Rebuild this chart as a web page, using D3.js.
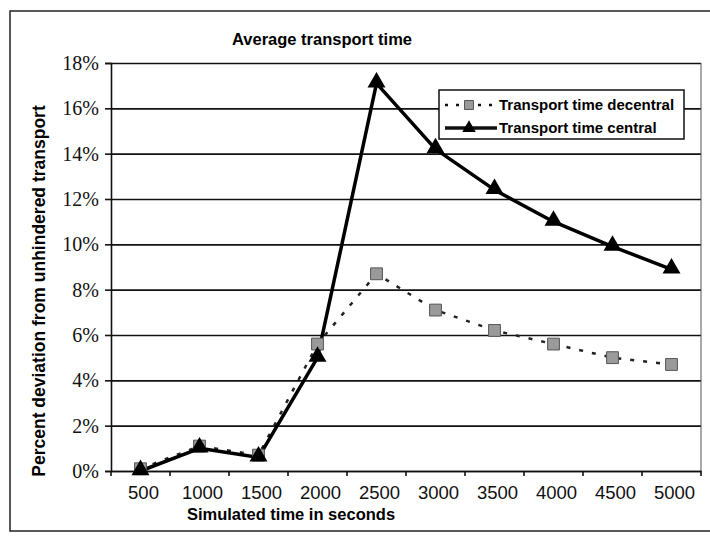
<!DOCTYPE html>
<html>
<head>
<meta charset="utf-8">
<script src="https://cdn.jsdelivr.net/npm/d3@7"></script>
<style>
  body { margin: 0; background: #fff; }
  svg { display: block; }
</style>
</head>
<body>
<div id="chart"></div>
<script>
const simTimes = ['500', '1000', '1500', '2000', '2500', '3000', '3500', '4000', '4500', '5000'];
const decentral = [0.001, 0.011, 0.007, 0.056, 0.087, 0.071, 0.062, 0.056, 0.050, 0.047];
const central = [0.000, 0.010, 0.006, 0.050, 0.171, 0.142, 0.124, 0.110, 0.099, 0.089];
const yTicks = [0, 0.02, 0.04, 0.06, 0.08, 0.10, 0.12, 0.14, 0.16, 0.18];
const seriesNames = ['Transport time decentral', 'Transport time central'];

const W = 710, H = 536;
const plot = { left: 111, right: 701, top: 63, bottom: 471 };

const svg = d3.select('#chart').append('svg')
    .attr('width', W)
    .attr('height', H);

// outer frame (right side runs off the picture)
svg.append('rect')
    .attr('x', 10).attr('y', 11)
    .attr('width', 710).attr('height', 520)
    .attr('fill', 'none')
    .attr('stroke', '#222')
    .attr('stroke-width', 1.5);

const x = d3.scaleBand()
    .domain(simTimes)
    .range([plot.left, plot.right])
    .padding(0);

const y = d3.scaleLinear()
    .domain([0, 0.18])
    .range([plot.bottom, plot.top]);

// gridlines
svg.append('g')
    .attr('transform', `translate(${plot.left},0)`)
    .call(d3.axisLeft(y).tickValues(yTicks).tickSize(-(plot.right - plot.left)).tickFormat(''))
    .call(g => g.select('.domain').remove())
    .call(g => g.selectAll('line').attr('stroke', '#111').attr('stroke-width', 1.6));

// right edge of plot area
svg.append('line')
    .attr('x1', plot.right).attr('x2', plot.right)
    .attr('y1', plot.top).attr('y2', plot.bottom)
    .attr('stroke', '#555').attr('stroke-width', 1);

// y axis
svg.append('g')
    .attr('transform', `translate(${plot.left},0)`)
    .call(d3.axisLeft(y).tickValues(yTicks).tickSize(6).tickPadding(6).tickFormat(d3.format('.0%')))
    .call(g => g.select('.domain').attr('stroke', '#111').attr('stroke-width', 1.6))
    .call(g => g.selectAll('line').attr('stroke', '#111').attr('stroke-width', 1.6))
    .call(g => g.selectAll('text')
        .attr('font-family', '"Liberation Serif", "Times New Roman", serif')
        .attr('font-size', 20)
        .attr('fill', '#111'));

// x axis: labels at band centres, ticks at band boundaries
const xAxis = svg.append('g')
    .attr('transform', `translate(0,${plot.bottom})`)
    .call(d3.axisBottom(x).tickSize(0).tickPadding(15))
    .call(g => g.select('.domain').attr('stroke', '#111').attr('stroke-width', 1.6))
    .call(g => g.selectAll('text')
        .attr('font-family', '"Liberation Sans", Arial, sans-serif')
        .attr('font-size', 18.5)
        .attr('dx', 3)
        .attr('fill', '#111'));

xAxis.selectAll('.bound')
    .data(simTimes.concat(['end']))
    .join('line')
    .attr('class', 'bound')
    .attr('x1', d => d === 'end' ? plot.right : x(d))
    .attr('x2', d => d === 'end' ? plot.right : x(d))
    .attr('y1', 0).attr('y2', 5)
    .attr('stroke', '#111').attr('stroke-width', 1.6);

// lines
const line = d3.line()
    .x((d, i) => x(simTimes[i]) + x.bandwidth() / 2)
    .y(d => y(d));

svg.append('path')
    .datum(decentral)
    .attr('d', line)
    .attr('fill', 'none')
    .attr('stroke', '#222')
    .attr('stroke-width', 2.5)
    .attr('stroke-dasharray', '4,9');

svg.append('path')
    .datum(central)
    .attr('d', line)
    .attr('fill', 'none')
    .attr('stroke', '#000')
    .attr('stroke-width', 3.5)
    .attr('stroke-linejoin', 'round');

const square = d3.symbol().type(d3.symbolSquare).size(140);
const triangle = d3.symbol().type(d3.symbolTriangle).size(140);

svg.append('g').selectAll('path')
    .data(decentral)
    .join('path')
    .attr('transform', (d, i) => `translate(${x(simTimes[i]) + x.bandwidth() / 2},${y(d)})`)
    .attr('d', square)
    .attr('fill', '#9a9a9a')
    .attr('stroke', '#555')
    .attr('stroke-width', 1);

svg.append('g').selectAll('path')
    .data(central)
    .join('path')
    .attr('transform', (d, i) => `translate(${x(simTimes[i]) + x.bandwidth() / 2},${y(d) - 1})`)
    .attr('d', triangle)
    .attr('fill', '#000');

// titles
svg.append('text')
    .attr('x', 322).attr('y', 45)
    .attr('text-anchor', 'middle')
    .attr('font-family', '"Liberation Sans", Arial, sans-serif')
    .attr('font-weight', 'bold')
    .attr('font-size', 16.5)
    .text('Average transport time');

svg.append('text')
    .attr('x', 291).attr('y', 520)
    .attr('text-anchor', 'middle')
    .attr('font-family', '"Liberation Sans", Arial, sans-serif')
    .attr('font-weight', 'bold')
    .attr('font-size', 16.5)
    .text('Simulated time in seconds');

svg.append('text')
    .attr('transform', 'translate(45,291) rotate(-90)')
    .attr('text-anchor', 'middle')
    .attr('font-family', '"Liberation Sans", Arial, sans-serif')
    .attr('font-weight', 'bold')
    .attr('font-size', 17.5)
    .text('Percent deviation from unhindered transport');

// legend
const legend = svg.append('g').attr('transform', 'translate(439,90)');
legend.append('rect')
    .attr('width', 245).attr('height', 49)
    .attr('fill', '#fff')
    .attr('stroke', '#111')
    .attr('stroke-width', 1.5);

const legendRows = [
    { name: seriesNames[0], dash: '3,8', width: 2.5, sym: square, fill: '#9a9a9a', stroke: '#555' },
    { name: seriesNames[1], dash: null, width: 3.5, sym: triangle, fill: '#000', stroke: 'none' }
];

legendRows.forEach((r, i) => {
    const cy = 15 + i * 23;
    legend.append('line')
        .attr('x1', 6).attr('x2', 58)
        .attr('y1', cy).attr('y2', cy)
        .attr('stroke', '#111')
        .attr('stroke-width', r.width)
        .attr('stroke-dasharray', r.dash);
    legend.append('path')
        .attr('transform', `translate(30,${cy})`)
        .attr('d', r.sym.size(80)())
        .attr('fill', r.fill)
        .attr('stroke', r.stroke);
    legend.append('text')
        .attr('x', 60).attr('y', cy + 5)
        .attr('font-family', '"Liberation Sans", Arial, sans-serif')
        .attr('font-weight', 'bold')
        .attr('font-size', 15)
        .text(r.name);
});
</script>
</body>
</html>
